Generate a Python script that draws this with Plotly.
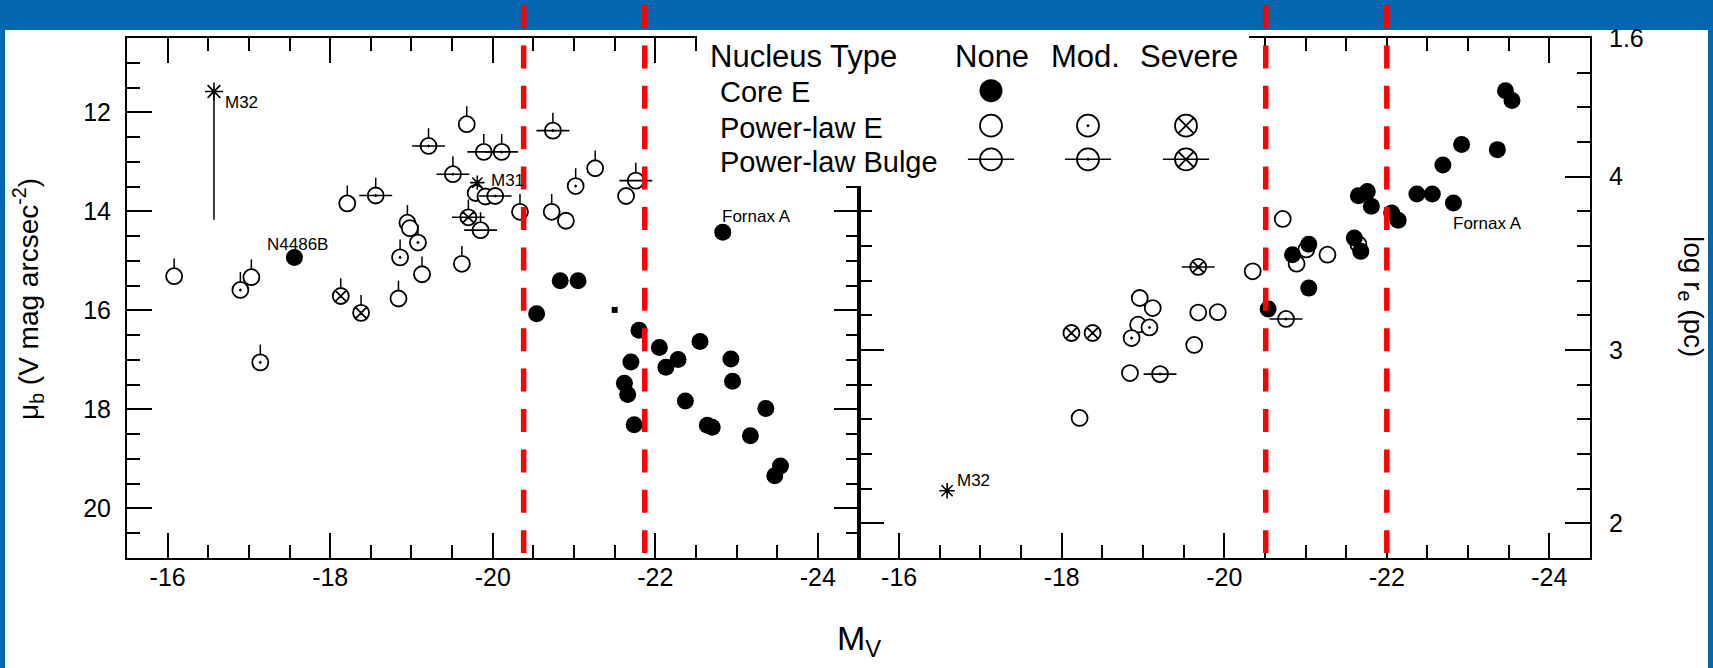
import plotly.graph_objects as go

# ---------------- DATA ----------------
# Left panel: mu_b (V mag arcsec^-2) vs M_V
coreL_x = [-17.56, -22.83, -20.83, -21.05, -20.54, -21.80, -22.05, -22.55, -21.70, -22.28, -22.13, -22.93,
           -21.62, -21.66, -22.95, -22.37, -23.36, -21.74, -22.64, -22.70, -23.17, -23.54, -23.47]
coreL_y = [14.93, 14.42, 15.40, 15.40, 16.07, 16.40, 16.75, 16.63, 17.04, 16.99, 17.15, 16.98,
           17.47, 17.70, 17.43, 17.83, 17.98, 18.31, 18.32, 18.36, 18.53, 19.14, 19.34]

plE_none_L_x = [-16.08, -17.03, -18.21, -18.84, -18.95, -18.98, -19.13, -19.62, -19.68, -19.79, -19.91,
                -20.335, -20.725, -20.90, -21.26, -21.64]
plE_none_L_y = [15.31, 15.33, 13.84, 15.76, 14.23, 14.34, 15.27, 15.06, 12.24, 13.63, 13.70,
                14.01, 14.01, 14.19, 13.13, 13.69]
plE_none_L_bar = [1, 1, 1, 1, 1, 0, 1, 1, 1, 0, 0, 1, 1, 0, 1, 0]

plE_mod_L_x = [-16.895, -17.14, -18.86, -19.08, -21.02]
plE_mod_L_y = [15.587, 17.05, 14.93, 14.63, 13.49]
plE_mod_L_bar = [1, 1, 1, 1, 1]

plE_sev_L_x = [-18.13, -18.38]
plE_sev_L_y = [15.71, 16.05]
plE_sev_L_bar = [1, 1]

plB_none_L_x = [-19.89, -19.85, -21.76]
plB_none_L_y = [12.80, 14.38, 13.38]
plB_none_L_bar = [1, 1, 1]

plB_mod_L_x = [-18.56, -19.21, -19.51, -20.11, -20.03, -20.74]
plB_mod_L_y = [13.68, 12.68, 13.25, 12.80, 13.69, 12.37]
plB_mod_L_bar = [1, 1, 1, 1, 0, 1]

plB_sev_L_x = [-19.70]
plB_sev_L_y = [14.12]
plB_sev_L_bar = [1]

m32L_x, m32L_y, m32L_ylow = [-16.57], [11.58], [14.17]
m31L_x, m31L_y = [-19.81], [13.42]
speckL_x, speckL_y = [-21.50], [15.99]

cutsL = [-20.38, -21.87]

# Right panel: log r_e (pc) vs M_V
coreR_x = [-23.46, -23.54, -22.92, -23.36, -22.69, -22.37, -22.56, -22.82, -21.65, -21.76, -21.81, -22.06,
           -22.14, -21.60, -21.68, -21.04, -20.84, -21.04, -20.54]
coreR_y = [4.496, 4.44, 4.185, 4.156, 4.067, 3.90, 3.90, 3.848, 3.89, 3.915, 3.829, 3.79,
           3.748, 3.646, 3.569, 3.61, 3.55, 3.357, 3.237]

plE_none_R_x = [-18.96, -19.12, -19.68, -19.92, -18.94, -19.63, -18.84, -18.22, -20.35, -20.72, -20.89,
                -21.27, -21.01, -21.65]
plE_none_R_y = [3.30, 3.242, 3.216, 3.218, 3.146, 3.029, 2.867, 2.608, 3.454, 3.756, 3.498,
                3.55, 3.58, 3.61]
plE_mod_R_x = [-19.08, -18.86]
plE_mod_R_y = [3.130, 3.069]
plE_sev_R_x = [-18.12, -18.38]
plE_sev_R_y = [3.098, 3.098]
plB_mod_R_x = [-19.21, -20.76]
plB_mod_R_y = [2.861, 3.179]
plB_sev_R_x = [-19.68]
plB_sev_R_y = [3.479]
m32R_x, m32R_y = [-16.59], [2.188]

cutsR = [-20.51, -22.00]

# axes / ticks
x_range = [-15.5, -24.5]
x_tickvals = [-16, -18, -20, -22, -24]
x_ticktext = ["-16", "-18", "-20", "-22", "-24"]
muL_range = [21.0, 10.5]
muL_tickvals = [12, 14, 16, 18, 20]
muL_ticktext = ["12", "14", "16", "18", "20"]
re_range = [1.8, 4.8]
re_tickvals = [2, 3, 4, 4.8]
re_ticktext = ["2", "3", "4", "1.6"]

# legend table
legend_cols = ["None", "Mod.", "Severe"]
legend_rows = ["Core E", "Power-law E", "Power-law Bulge"]
legend_symbols = ["circle", "circle-dot", "circle-x"]

# ---------------- STYLE ----------------
W, H = 1713, 668
ML, MR, MT, MB = 127, 123, 38, 110
PW, PH = W - ML - MR, H - MT - MB
FONT = "Liberation Sans, Arial, sans-serif"
BLUE = "#0366AF"
BAR_LEN = 0.36          # length of the upper-limit tick above open points (mag)
SZ = 16                 # data marker size
LEGSZ = 22
LW = 1.8


def px2paper(px, py):
    return (px - ML) / PW, (MT + PH - py) / PH


fig = go.Figure()


def add_pts(xs, ys, symbol, xa, ya, filled=False, bars=None, bulge=False, size=SZ, bulge_len=23.5):
    marker = dict(symbol=symbol, size=size,
                  color="black" if filled else "white",
                  line=dict(color="black", width=0 if filled else LW))
    kw = {}
    if bars is not None:
        kw["error_y"] = dict(type="data", symmetric=False,
                             array=[0] * len(bars),
                             arrayminus=[BAR_LEN * b for b in bars],
                             color="black", thickness=1.5, width=0)
    fig.add_trace(go.Scatter(x=xs, y=ys, mode="markers", marker=marker, xaxis=xa, yaxis=ya,
                             showlegend=False, hoverinfo="skip", cliponaxis=False, **kw))
    if bulge:
        fig.add_trace(go.Scatter(x=xs, y=ys, mode="markers", xaxis=xa, yaxis=ya,
                                 marker=dict(symbol="line-ew-open", size=bulge_len, color="black",
                                             line=dict(color="black", width=1.6)),
                                 showlegend=False, hoverinfo="skip", cliponaxis=False))


def add_star(xs, ys, xa, ya, size, err=None):
    kw = {}
    if err is not None:
        kw["error_y"] = err
    fig.add_trace(go.Scatter(x=xs, y=ys, mode="markers", xaxis=xa, yaxis=ya,
                             marker=dict(symbol="asterisk-open", size=size, color="black",
                                         line=dict(color="black", width=1.6)),
                             showlegend=False, hoverinfo="skip", **kw))


# ---- left panel
add_pts(plE_none_L_x, plE_none_L_y, "circle", "x", "y", bars=plE_none_L_bar)
add_pts(plE_mod_L_x, plE_mod_L_y, "circle-dot", "x", "y", bars=plE_mod_L_bar)
add_pts(plE_sev_L_x, plE_sev_L_y, "circle-x", "x", "y", bars=plE_sev_L_bar)
add_pts(plB_none_L_x, plB_none_L_y, "circle", "x", "y", bars=plB_none_L_bar, bulge=True)
add_pts(plB_mod_L_x, plB_mod_L_y, "circle-dot", "x", "y", bars=plB_mod_L_bar, bulge=True)
add_pts(plB_sev_L_x, plB_sev_L_y, "circle-x", "x", "y", bars=plB_sev_L_bar, bulge=True)
add_pts(coreL_x, coreL_y, "circle", "x", "y", filled=True, size=17)
add_star(m32L_x, m32L_y, "x", "y", 15,
         err=dict(type="data", symmetric=False,
                  array=[lo - y for lo, y in zip(m32L_ylow, m32L_y)],
                  arrayminus=[0] * len(m32L_y), color="black", thickness=1.5, width=0))
add_star(m31L_x, m31L_y, "x", "y", 12)
fig.add_trace(go.Scatter(x=speckL_x, y=speckL_y, mode="markers", xaxis="x", yaxis="y",
                         marker=dict(symbol="square", size=6, color="black"),
                         showlegend=False, hoverinfo="skip"))

# ---- right panel
add_pts(plE_none_R_x, plE_none_R_y, "circle", "x2", "y2")
add_pts(plE_mod_R_x, plE_mod_R_y, "circle-dot", "x2", "y2")
add_pts(plE_sev_R_x, plE_sev_R_y, "circle-x", "x2", "y2")
add_pts(plB_mod_R_x, plB_mod_R_y, "circle-dot", "x2", "y2", bulge=True)
add_pts(plB_sev_R_x, plB_sev_R_y, "circle-x", "x2", "y2", bulge=True)
add_pts(coreR_x, coreR_y, "circle", "x2", "y2", filled=True, size=17)
add_star(m32R_x, m32R_y, "x2", "y2", 13)

# ---- legend panel (drawn in an invisible full-frame subplot so it sits above the axes)
box_x0, box_y1 = px2paper(697, 186)
box_x1, box_y0 = px2paper(1249, 30)
fig.add_trace(go.Scatter(x=[box_x0, box_x1, box_x1, box_x0, box_x0],
                         y=[box_y1, box_y1, box_y0, box_y0, box_y1],
                         fill="toself", fillcolor="white", mode="lines", line=dict(width=0),
                         xaxis="x3", yaxis="y3", showlegend=False, hoverinfo="skip"))
col_px = [991, 1088, 1186]
row_py = [90.7, 125.7, 159.3]
cx = [px2paper(p, 0)[0] for p in col_px]
ry = [px2paper(0, p)[1] for p in row_py]
add_pts([cx[0]], [ry[0]], "circle", "x3", "y3", filled=True, size=LEGSZ + 1)
add_pts(cx, [ry[1]] * 3, legend_symbols, "x3", "y3", size=LEGSZ)
add_pts(cx, [ry[2]] * 3, legend_symbols, "x3", "y3", size=LEGSZ, bulge=True, bulge_len=33)

# ---------------- LAYOUT ----------------
axis_common = dict(showline=True, linewidth=2, linecolor="black", mirror="ticks",
                   ticks="inside", ticklen=25, tickwidth=1.6, tickcolor="black",
                   showgrid=False, zeroline=False, tickfont=dict(size=25, color="black", family=FONT))


def minor(d):
    return dict(tickmode="linear", tick0=0, dtick=d, ticks="inside", ticklen=13,
                tickwidth=1.6, tickcolor="black")


fig.update_layout(
    width=W, height=H, autosize=False,
    margin=dict(l=ML, r=MR, t=MT, b=MB, pad=0),
    paper_bgcolor=BLUE, plot_bgcolor="rgba(0,0,0,0)",
    font=dict(family=FONT, color="black"),
    showlegend=False,
    xaxis=dict(domain=[0, 0.5], range=x_range, anchor="y", tickmode="array",
               tickvals=x_tickvals, ticktext=x_ticktext, ticklabelstandoff=-4,
               minor=minor(0.5), **axis_common),
    yaxis=dict(domain=[0, 1], range=muL_range, anchor="x", tickmode="array",
               tickvals=muL_tickvals, ticktext=muL_ticktext, ticklabelstandoff=9,
               minor=minor(0.5), **axis_common),
    xaxis2=dict(domain=[0.5, 1], range=x_range, anchor="y2", tickmode="array",
                tickvals=x_tickvals, ticktext=x_ticktext, ticklabelstandoff=-4,
                minor=minor(0.5), **axis_common),
    yaxis2=dict(domain=[0, 1], range=re_range, anchor="x2", side="right", tickmode="array",
                tickvals=re_tickvals, ticktext=re_ticktext, ticklabelstandoff=12,
                minor=minor(0.2), **axis_common),
    xaxis3=dict(domain=[0, 1], range=[0, 1], anchor="y3", visible=False, fixedrange=True),
    yaxis3=dict(domain=[0, 1], range=[0, 1], anchor="x3", visible=False, fixedrange=True),
)

# white page on blue frame
wx0, wy0 = px2paper(5, 680)
wx1, wy1 = px2paper(1708, 30)
shapes = [dict(type="rect", xref="paper", yref="paper", x0=wx0, x1=wx1, y0=wy0, y1=wy1,
               fillcolor="white", line=dict(width=0), layer="below")]
# hide top frame line under the legend panel
sx0, sy0 = px2paper(697, 41)
sx1, sy1 = px2paper(1249, 33)
shapes.append(dict(type="rect", xref="paper", yref="paper", x0=sx0, x1=sx1, y0=sy0, y1=sy1,
                   fillcolor="white", line=dict(width=0), layer="above"))
# red dashed dividers
_, ytop = px2paper(0, 5)
_, ybot = px2paper(0, 553)
for xa, cuts in (("x", cutsL), ("x2", cutsR)):
    for c in cuts:
        shapes.append(dict(type="line", xref=xa, yref="paper", x0=c, x1=c, y0=ytop, y1=ybot,
                           line=dict(color="#FF0000", width=5.5, dash="23px,17.4px"), layer="above"))
fig.update_layout(shapes=shapes)

ann = []
lab = dict(showarrow=False, font=dict(size=17, family=FONT, color="black"))
ann.append(dict(x=m32L_x[0], y=m32L_y[0], xref="x", yref="y", text="M32", xanchor="left",
                yanchor="middle", xshift=9, yshift=-11, **lab))
ann.append(dict(x=m31L_x[0], y=m31L_y[0], xref="x", yref="y", text="M31", xanchor="left",
                yanchor="middle", xshift=12, yshift=2, **lab))
ann.append(dict(x=coreL_x[0], y=coreL_y[0], xref="x", yref="y", text="N4486B", xanchor="center",
                yanchor="middle", xshift=3, yshift=13, **lab))
ann.append(dict(x=coreL_x[1], y=coreL_y[1], xref="x", yref="y", text="Fornax A", xanchor="left",
                yanchor="middle", xshift=-3, yshift=16, **lab))
ann.append(dict(x=m32R_x[0], y=m32R_y[0], xref="x2", yref="y2", text="M32", xanchor="left",
                yanchor="middle", xshift=8, yshift=10, **lab))
ann.append(dict(x=coreR_x[7], y=coreR_y[7], xref="x2", yref="y2", text="Fornax A", xanchor="left",
                yanchor="middle", xshift=-2, yshift=-20, **lab))

# legend text
hx, hy = px2paper(708, 57)
ann.append(dict(x=hx, y=hy, xref="paper", yref="paper", text="Nucleus Type", xanchor="left",
                yanchor="middle", showarrow=False, font=dict(size=31, family=FONT, color="black")))
for c, t in zip([992, 1085, 1189], legend_cols):
    ax_, _ = px2paper(c, 0)
    ann.append(dict(x=ax_, y=hy, xref="paper", yref="paper", text=t, xanchor="center",
                    yanchor="middle", showarrow=False, font=dict(size=31, family=FONT, color="black")))
for py, t in zip([92.5, 127.5, 162], legend_rows):
    lx, ly = px2paper(718, py)
    ann.append(dict(x=lx, y=ly, xref="paper", yref="paper", text=t, xanchor="left",
                    yanchor="middle", showarrow=False, font=dict(size=29, family=FONT, color="black")))

# axis titles
tx, ty = px2paper(859, 641)
ann.append(dict(x=tx, y=ty, xref="paper", yref="paper", text="M<sub>V</sub>", xanchor="center",
                yanchor="middle", showarrow=False, font=dict(size=34, family=FONT, color="black")))
tx, ty = px2paper(28, 299)
ann.append(dict(x=tx, y=ty, xref="paper", yref="paper",
                text="\u03bc<sub>b</sub> (V mag arcsec<sup>-2</sup>)", textangle=-90,
                xanchor="center", yanchor="middle", showarrow=False,
                font=dict(size=28, family=FONT, color="black")))
tx, ty = px2paper(1692, 296)
ann.append(dict(x=tx, y=ty, xref="paper", yref="paper", text="log r<sub>e</sub> (pc)", textangle=90,
                xanchor="center", yanchor="middle", showarrow=False,
                font=dict(size=28, family=FONT, color="black")))
fig.update_layout(annotations=ann)

fig.write_html("out.html")
